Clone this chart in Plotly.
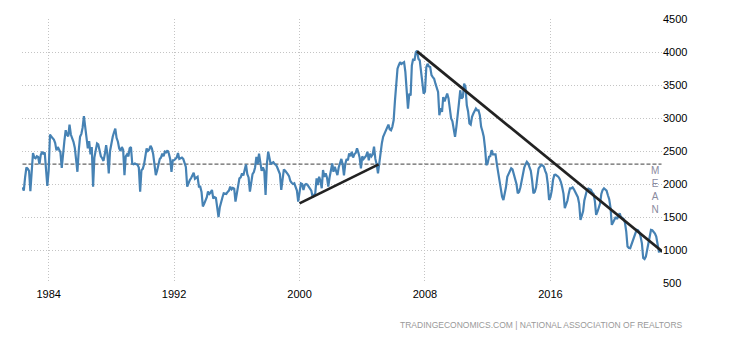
import pandas as pd
import plotly.graph_objects as go

# ---------------- data ----------------
start_month = "1982-05-01"
inventory = [
    # 1982 (May-Dec)
    1950, 1900, 2100, 2250, 2230, 2200, 1890, 2250,
    # 1983
    2470, 2400, 2390, 2420, 2410, 2300, 2440, 2490, 2450, 2480, 2200, 1970,
    # 1984
    2200, 2750, 2720, 2700, 2675, 2620, 2510, 2560, 2520, 2480, 2245, 2500,
    # 1985
    2650, 2815, 2750, 2720, 2900, 2750, 2700, 2640, 2550, 2400, 2185, 2500,
    # 1986
    2715, 2760, 2850, 3030, 2850, 2700, 2540, 2650, 2450, 2560, 1960, 2400,
    # 1987
    2500, 2615, 2600, 2500, 2420, 2390, 2350, 2450, 2590, 2450, 2160, 2500,
    # 1988
    2650, 2715, 2780, 2840, 2700, 2640, 2540, 2500, 2560, 2520, 2135, 2420,
    # 1989
    2450, 2420, 2540, 2560, 2310, 2300, 2310, 2300, 2290, 2250, 1885, 2210,
    # 1990
    2230, 2300, 2450, 2540, 2500, 2520, 2580, 2540, 2450, 2300, 2135, 2200,
    # 1991
    2300, 2380, 2400, 2460, 2420, 2490, 2480, 2510, 2460, 2380, 2185, 2360,
    # 1992
    2360, 2380, 2400, 2470, 2380, 2390, 2400, 2380, 2320, 2260, 1960, 2020,
    # 1993
    2060, 2090, 2120, 2170, 2080, 2100, 2110, 1960, 1960, 1880, 1660, 1700,
    # 1994
    1750, 1800, 1885, 1850, 1870, 1910, 1780, 1800, 1790, 1650, 1500, 1650,
    # 1995
    1750, 1800, 1860, 1850, 1850, 1880, 1900, 1960, 1920, 1940, 1930, 1733,
    # 1996
    1850, 1935, 2085, 2100, 2160, 2130, 2200, 2297, 2150, 2100, 1885, 2000,
    # 1997
    2150, 2180, 2250, 2410, 2300, 2460, 2350, 2200, 2250, 2200, 1835, 2300,
    # 1998
    2490, 2400, 2300, 2320, 2330, 2300, 2290, 2250, 2200, 2150, 1910, 2100,
    # 1999
    2220, 2200, 2180, 2150, 2120, 2045, 2020, 2000, 2010, 1950, 1900, 1733,
    # 2000
    1900, 2010, 2000, 1910, 1985, 2000, 1990, 1960, 1940, 1900, 1800, 1830,
    # 2001
    1860, 2085, 1985, 2110, 2050, 1935, 2211, 2110, 2160, 2100, 1960, 2100,
    # 2002
    2236, 2311, 2186, 2260, 2200, 2135, 2250, 2337, 2380, 2300, 2130, 2300,
    # 2003
    2380, 2360, 2463, 2420, 2489, 2400, 2450, 2470, 2539, 2480, 2400, 2237,
    # 2004
    2420, 2380, 2400, 2430, 2489, 2360, 2460, 2420, 2450, 2565, 2380, 2300,
    # 2005
    2161, 2350, 2489, 2615, 2715, 2765, 2816, 2866, 2900, 2830, 2815, 2866,
    # 2006
    2966, 3268, 3570, 3747, 3800, 3847, 3820, 3840, 3847, 3700, 3369, 3143,
    # 2007
    3369, 3340, 3796, 3897, 3870, 3998, 4020, 3897, 3872, 3696, 3470, 3369,
    # 2008
    3400, 3771, 3821, 3780, 3771, 3650, 3620, 3595, 3520, 3450, 3394, 3042,
    # 2009
    3150, 3092, 3318, 3250, 3330, 3369, 3300, 3150, 2992, 2950, 2850, 2715,
    # 2010
    2866, 3017, 3218, 3420, 3293, 3318, 3520, 3470, 3193, 3100, 2916, 2900,
    # 2011
    3017, 3067, 3100, 3143, 3117, 3117, 3042, 2866, 2800, 2715, 2539, 2287,
    # 2012
    2320, 2412, 2420, 2513, 2450, 2450, 2450, 2300, 2161, 2060, 1900, 1808,
    # 2013
    1758, 1850, 1950, 2110, 2161, 2200, 2237, 2220, 2150, 2100, 2000, 1858,
    # 2014
    1880, 1950, 2050, 2186, 2250, 2300, 2337, 2310, 2250, 2200, 2050, 1858,
    # 2015
    1880, 1950, 2100, 2237, 2262, 2287, 2280, 2262, 2200, 2150, 2000, 1758,
    # 2016
    1800, 1900, 2060, 2136, 2140, 2130, 2110, 2080, 2030, 1950, 1850, 1633,
    # 2017
    1680, 1750, 1850, 1935, 1935, 1950, 1920, 1880, 1850, 1800, 1700, 1456,
    # 2018
    1520, 1590, 1750, 1850, 1910, 1930, 1920, 1910, 1870, 1850, 1740, 1532,
    # 2019
    1580, 1630, 1700, 1850, 1910, 1935, 1920, 1900, 1830, 1770, 1640, 1381,
    # 2020
    1420, 1470, 1500, 1470, 1520, 1557, 1500, 1490, 1470, 1420, 1280, 1053,
    # 2021
    1030, 1027, 1080, 1154, 1220, 1256, 1305, 1300, 1270, 1205, 1100, 878,
    # 2022
    862, 900, 1003, 1100, 1200, 1305, 1300, 1280, 1250, 1205, 1104, 978,
    # 2023
    980, 990,
]

mean_value = 2300

trend_up_dates = ["2000-01-01", "2005-01-15"]
trend_up_values = [1707, 2297]
trend_down_dates = ["2007-07-01", "2023-02-25"]
trend_down_values = [4010, 975]

x_tick_years = [1984, 1992, 2000, 2008, 2016]
y_ticks = [500, 1000, 1500, 2000, 2500, 3000, 3500, 4000, 4500]

source_text = "TRADINGECONOMICS.COM | NATIONAL ASSOCIATION OF REALTORS"

# ---------------- figure ----------------
dates = pd.date_range(start_month, periods=len(inventory), freq="MS")

fig = go.Figure()

fig.add_trace(go.Scatter(
    x=[dates[0], dates[-1]], y=[mean_value, mean_value],
    mode="lines", line=dict(color="#666666", width=1.2, dash="4px,2px"),
    hoverinfo="skip",
))

fig.add_trace(go.Scatter(
    x=dates, y=inventory, mode="lines",
    line=dict(color="#4682B4", width=2.2),
))

fig.add_trace(go.Scatter(
    x=trend_up_dates, y=trend_up_values, mode="lines",
    line=dict(color="#222222", width=2.7),
))
fig.add_trace(go.Scatter(
    x=trend_down_dates, y=trend_down_values, mode="lines",
    line=dict(color="#222222", width=2.7),
))

fig.update_layout(
    width=730, height=340,
    margin=dict(l=22, r=68, t=19, b=57),
    paper_bgcolor="white", plot_bgcolor="white",
    showlegend=False,
    font=dict(family="Liberation Sans, Arial, sans-serif", size=11, color="#000000"),
)

fig.update_xaxes(
    type="date",
    range=["1982-04-20", "2023-02-12"],
    tickvals=[f"{y}-01-01" for y in x_tick_years],
    ticktext=[str(y) for y in x_tick_years],
    showgrid=True, gridcolor="#c4c4c4", griddash="1px,2px", gridwidth=1,
    zeroline=False, showline=False, ticks="",
    ticklabelstandoff=3,
    tickfont=dict(size=11, color="#000000"),
)

fig.update_yaxes(
    side="right",
    range=[500, 4500],
    tickvals=y_ticks,
    ticktext=[str(v) for v in y_ticks],
    showgrid=True, gridcolor="#c4c4c4", griddash="1px,2px", gridwidth=1,
    zeroline=False, showline=False, ticks="",
    tickfont=dict(size=11, color="#000000"),
)

fig.add_annotation(
    text="M<br>E<br>A<br>N",
    xref="paper", yref="y",
    x=0.9895, y=1905,
    xanchor="center", yanchor="middle",
    showarrow=False,
    font=dict(size=10, color="#8a8aa0", family="Liberation Sans, Arial, sans-serif"),
)

fig.add_annotation(
    text=source_text,
    xref="paper", yref="paper",
    x=(685 - 22) / 640, y=(283.3 - 325.5) / 264.3,
    xanchor="right", yanchor="middle",
    showarrow=False,
    font=dict(size=8.5, color="#999999", family="Liberation Sans, Arial, sans-serif"),
)

fig.write_html("out.html")
